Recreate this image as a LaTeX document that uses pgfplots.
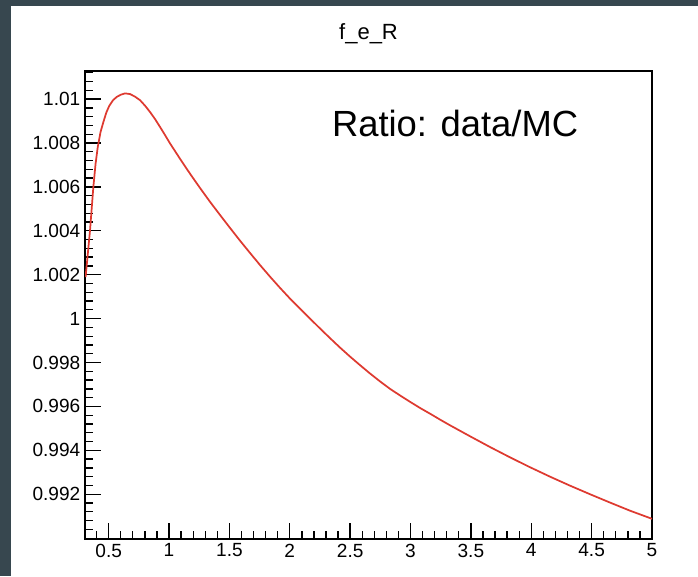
\documentclass[border=0pt]{standalone}
\usepackage{fontspec}
\setmainfont{Liberation Sans}
\usepackage{pgfplots}
\pgfplotsset{compat=1.18}
\usepackage{pgfplotstable}

\definecolor{canvasframe}{RGB}{55,71,79}
\definecolor{curvered}{RGB}{222,58,48}

% ratio data/MC as a function of x
\pgfplotstableread{
x       y
0.3085  1.00189
0.3209  1.00258
0.3333  1.00331
0.3458  1.00403
0.3598  1.00504
0.3731  1.00599
0.3913  1.00704
0.4095  1.00781
0.4327  1.00850
0.4559  1.00895
0.4807  1.00939
0.5056  1.00970
0.5362  1.00995
0.5669  1.01010
0.6008  1.01020
0.6356  1.01026
0.6770  1.01023
0.7184  1.01011
0.7598  1.00995
0.8012  1.00970
0.8427  1.00941
0.8841  1.00909
0.9255  1.00873
0.9669  1.00836
1.0083  1.00798
1.0911  1.00728
1.1739  1.00660
1.2567  1.00595
1.3395  1.00532
1.4224  1.00472
1.5052  1.00413
1.5880  1.00355
1.6708  1.00299
1.7536  1.00244
1.8364  1.00191
1.9193  1.00140
2.0021  1.00091
2.0849  1.00045
2.1677  1.00000
2.2505  0.99955
2.3333  0.99911
2.4161  0.99868
2.4990  0.99827
2.5818  0.99788
2.6646  0.99750
2.7474  0.99714
2.8302  0.99680
2.9130  0.99650
2.9959  0.99621
3.0787  0.99593
3.1615  0.99567
3.2443  0.99540
3.3271  0.99514
3.4928  0.99464
3.6584  0.99415
3.8240  0.99368
3.9896  0.99323
4.1553  0.99280
4.3209  0.99239
4.4865  0.99200
4.6522  0.99162
4.8178  0.99125
5.0000  0.99088
}\ratiotable

\begin{document}
\begin{tikzpicture}
% canvas with its dark frame on the top and left edges
\useasboundingbox (0,0) rectangle (523.5pt,432pt);
\fill[canvasframe] (0,0) rectangle (523.5pt,432pt);
\fill[white] (8.25pt,0) rectangle (523.5pt,427.5pt);

\begin{axis}[
  at={(63.75pt,27.75pt)}, anchor=south west,
  scale only axis,
  width=425.25pt, height=351pt,
  xmin=0.304, xmax=5,
  ymin=0.98996, ymax=1.01128,
  axis line style={line width=1.1pt, black},
  every tick/.style={black, line width=1.0pt},
  tick align=inside,
  xtick pos=bottom, ytick pos=left,
  major tick length=12pt,
  minor tick length=6pt,
  xtick={0.5,1,1.5,2,2.5,3,3.5,4,4.5,5},
  xticklabels={0.5,1,1.5,2,2.5,3,3.5,4,4.5,5},
  minor xtick={0.4,0.6,0.7,0.8,0.9,1.1,1.2,1.3,1.4,1.6,1.7,1.8,1.9,
               2.1,2.2,2.3,2.4,2.6,2.7,2.8,2.9,3.1,3.2,3.3,3.4,
               3.6,3.7,3.8,3.9,4.1,4.2,4.3,4.4,4.6,4.7,4.8,4.9},
  ytick={0.992,0.994,0.996,0.998,1,1.002,1.004,1.006,1.008,1.01},
  yticklabels={0.992,0.994,0.996,0.998,1,1.002,1.004,1.006,1.008,1.01},
  minor ytick={0.9904,0.9908,0.9912,0.9916,0.9924,0.9928,0.9932,0.9936,
               0.9944,0.9948,0.9952,0.9956,0.9964,0.9968,0.9972,0.9976,
               0.9984,0.9988,0.9992,0.9996,1.0004,1.0008,1.0012,1.0016,
               1.0024,1.0028,1.0032,1.0036,1.0044,1.0048,1.0052,1.0056,
               1.0064,1.0068,1.0072,1.0076,1.0084,1.0088,1.0092,1.0096,
               1.0104,1.0108,1.0112},
  scaled ticks=false,
  /pgf/number format/assume math mode=true,
  ticklabel style={font=\fontsize{14.3}{17}\selectfont},
  clip=true,
]
\addplot[curvered, line width=1.3pt, line join=round] table[x=x, y=y] {\ratiotable};
\end{axis}

\node[anchor=base, font=\fontsize{16.5}{19}\selectfont, inner sep=0pt] at (276.4pt,402pt) {f\_e\_R};
\node[anchor=base west, font=\fontsize{27.3}{32}\selectfont, inner sep=0pt] at (248.8pt,329.5pt) {Ratio: data/MC};
\end{tikzpicture}
\end{document}
